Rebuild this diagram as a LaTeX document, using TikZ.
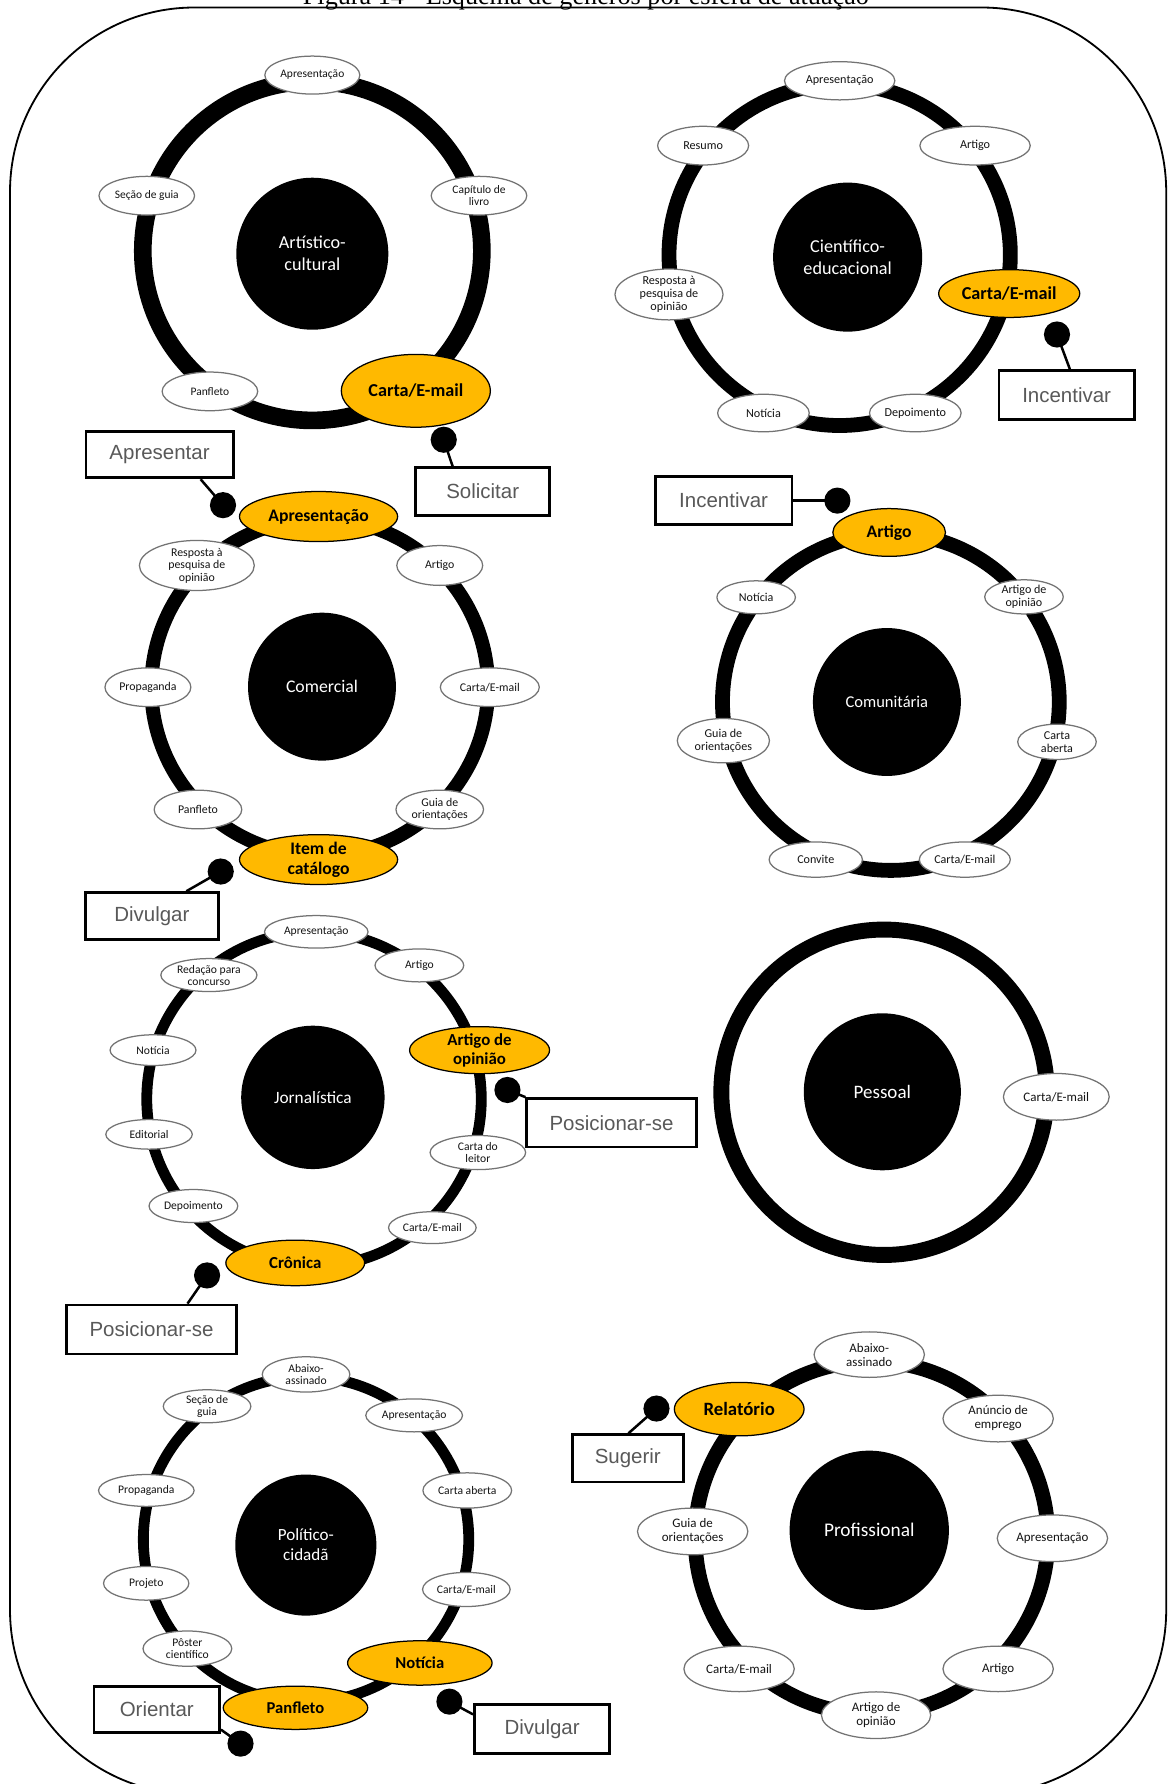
\documentclass[tikz,border=0pt]{standalone}
\usepackage{fontspec}
\setmainfont{Liberation Serif}
\newfontfamily\carl{Carlito}
\newfontfamily\arl{Liberation Sans}
\usetikzlibrary{shapes.geometric,calc}
\definecolor{hlor}{RGB}{255,185,0}
\definecolor{lblgray}{RGB}{89,89,89}
\tikzset{
  sz/.style 2 args={minimum width=#1pt, minimum height=#2pt},
  sm/.style={ellipse, draw=black!55, line width=1.1pt, fill=white, inner sep=0pt, align=center, text=black!92, font=\carl\fontsize{10.4}{11}\selectfont},
  hl/.style={ellipse, draw=black, line width=1.1pt, fill=hlor, inner sep=0pt, align=center, text=black, font=\carl\bfseries\fontsize{15.5}{17.5}\selectfont},
  ctr/.style={circle, fill=black, inner sep=0pt, align=center, text=white, font=\carl\fontsize{15.5}{19}\selectfont},
  ring/.style={draw=black, line width=#1pt},
  lbl/.style={rectangle, draw=black, line width=2.4pt, fill=white, inner sep=0pt, text=lblgray, font=\arl\fontsize{18}{20}\selectfont},
  dotc/.style={circle, fill=black, inner sep=0pt, minimum size=23pt},
  conn/.style={draw=black, line width=2.2pt},
}
\begin{document}
\begin{tikzpicture}[x=1pt,y=-1pt]
\useasboundingbox (0,0) rectangle (1027,1568);
\fill[white] (0,0) rectangle (1027,1568);
\draw[line width=1.6pt, rounded corners=162pt] (8.8,6.6) rectangle (1025,1577);
\node[anchor=base, font=\fontsize{23}{26}\selectfont, inner sep=0pt] (cap) at (515,4) {Figura 14 - Esquema de gêneros por esfera de atuação};

% ---------- D1 Artistico-cultural
\draw[ring=15.5] (274.5,220.5) circle[radius=149pt];
\node[ctr, minimum size=133.6pt, font=\carl\fontsize{16}{19.3}\selectfont] (c1) at (274.5,223) {Artístico-\\cultural};
\begin{scope}[sm/.append style={font=\carl\fontsize{10.1}{10.8}\selectfont}]
\node[sm, sz={83.5}{33.4}] (d1a) at (274.5,66) {Apresentação};
\node[sm, sz={84}{34}] (d1b) at (129,172) {Seção de guia};
\node[sm, sz={84}{34}] (d1c) at (421,172) {Capítulo de\\livro};
\node[sm, sz={84}{34}] (d1d) at (184.5,344) {Panfleto};
\end{scope}
\node[hl, sz={131}{64}, font=\carl\bfseries\fontsize{16}{18}\selectfont] (d1e) at (365.5,343.5) {Carta/E-mail};
\node[lbl, sz={117.5}{42}] (solic) at (424.25,432) {Solicitar};
\node[dotc] (dt1) at (390,386.5) {};
\draw[conn] (dt1.center) -- ($(solic.north west)+(33.5,0)$);

% ---------- D2 Comercial
\draw[ring=12.3] (281,604) circle[radius=148pt];
\node[ctr, minimum size=130pt, font=\carl\fontsize{15.6}{19}\selectfont] (c2) at (283,603.5) {Comercial};
\node[hl, sz={139}{44}] (d2a) at (280,454) {Apresentação};
\node[sm, sz={101}{44}] (d2b) at (173,497) {Resposta à\\pesquisa de\\opinião};
\node[sm, sz={75.5}{35}] (d2c) at (386.5,497) {Artigo};
\node[sm, sz={75.5}{34}] (d2d) at (130,604) {Propaganda};
\node[sm, sz={87}{34}] (d2e) at (430.5,604) {Carta/E-mail};
\node[sm, sz={77}{34}] (d2f) at (174,711.5) {Panfleto};
\node[sm, sz={77}{34}] (d2g) at (386.5,711.5) {Guia de\\orientações};
\node[hl, sz={139}{41}] (d2h) at (280,755.5) {Item de\\catálogo};
\node[lbl, sz={129.5}{41}] (apres) at (140.25,399.5) {Apresentar};
\node[dotc] (dt2) at (196,444) {};
\draw[conn] ($(apres.south west)+(102,0)$) -- (dt2.center);
\node[lbl, sz={117}{41.5}] (div1) at (133.5,805.25) {Divulgar};
\node[dotc] (dt3) at (194,766) {};
\draw[conn] (dt3.center) -- ($(div1.north west)+(90,0)$);

% ---------- D3 Cientifico-educacional
\draw[ring=13] (738,224) circle[radius=150pt];
\node[ctr, minimum size=131pt, font=\carl\fontsize{16}{19.3}\selectfont] (c3) at (745,226) {Científico-\\educacional};
\begin{scope}[sm/.append style={font=\carl\fontsize{10.7}{11.3}\selectfont}]
\node[sm, sz={97}{33.6}] (d3a) at (738,71) {Apresentação};
\node[sm, sz={80}{34}] (d3b) at (618,128) {Resumo};
\node[sm, sz={97}{34}] (d3c) at (857,128) {Artigo};
\node[sm, sz={95}{44.5}] (d3d) at (588,258.8) {Resposta à\\pesquisa de\\opinião};
\node[sm, sz={80.5}{33}] (d3f) at (671,363) {Notícia};
\node[sm, sz={80.5}{33}] (d3g) at (804.5,363) {Depoimento};
\end{scope}
\node[hl, sz={124}{42}, font=\carl\bfseries\fontsize{16}{18}\selectfont] (d3e) at (887,258) {Carta/E-mail};
\node[lbl, sz={119}{43.4}] (inc1) at (937.5,347.3) {Incentivar};
\node[dotc] (dt4) at (929,294) {};
\draw[conn] (dt4.center) -- ($(inc1.north west)+(63.5,0)$);

% ---------- D4 Comunitaria
\draw[ring=13] (783,617) circle[radius=148pt];
\node[ctr, minimum size=130pt, font=\carl\fontsize{14.5}{18}\selectfont] (c4) at (779.5,617) {Comunitária};
\node[hl, sz={99}{42}] (d4a) at (781.5,468) {Artigo};
\begin{scope}[sm/.append style={font=\carl\fontsize{10.6}{11.2}\selectfont}]
\node[sm, sz={69}{29}] (d4b) at (664.6,525) {Notícia};
\node[sm, sz={69}{30}] (d4c) at (900,524.6) {Artigo de\\opinião};
\node[sm, sz={81}{39}] (d4d) at (635.8,651) {Guia de\\orientações};
\node[sm, sz={69}{31}] (d4e) at (929,652) {Carta\\aberta};
\node[sm, sz={82}{31}] (d4f) at (717,755.5) {Convite};
\node[sm, sz={80}{31}] (d4g) at (848,755.5) {Carta/E-mail};
\end{scope}
\node[lbl, sz={120}{42}] (inc2) at (636,440) {Incentivar};
\node[dotc] (dt5) at (736,440) {};
\draw[conn] (inc2.east) -- (dt5.center);

% ---------- D5 Jornalistica
\draw[ring=9.5] (276,966) circle[radius=147pt];
\node[ctr, minimum size=126pt, font=\carl\fontsize{15.2}{19}\selectfont] (c5) at (275,964.5) {Jornalística};
\begin{scope}[sm/.append style={font=\carl\fontsize{10.2}{10.6}\selectfont}]
\node[sm, sz={91}{28.6}] (d5a) at (278,819) {Apresentação};
\node[sm, sz={78}{29}] (d5b) at (368.6,848.5) {Artigo};
\node[sm, sz={84.5}{29}] (d5c) at (183.6,857) {Redação para\\concurso};
\node[sm, sz={75.5}{27}] (d5e) at (134.5,923) {Notícia};
\node[sm, sz={76}{26}] (d5f) at (131,997) {Editorial};
\node[sm, sz={84}{30}] (d5g) at (420,1013) {Carta do\\leitor};
\node[sm, sz={78}{29}] (d5h) at (170,1060) {Depoimento};
\node[sm, sz={77}{28}] (d5i) at (380,1079) {Carta/E-mail};
\end{scope}
\node[hl, sz={123}{40}, font=\carl\bfseries\fontsize{14.8}{16.5}\selectfont] (d5d) at (421.5,923) {Artigo de\\opinião};
\node[hl, sz={122}{40}, font=\carl\bfseries\fontsize{14.8}{16.5}\selectfont] (d5j) at (259.5,1110) {Crônica};
\node[lbl, sz={149}{42.5}] (pos1) at (537.5,986.75) {Posicionar-se};
\node[dotc] (dt6) at (446,958) {};
\draw[conn] (dt6.center) -- (pos1.north west);
\node[lbl, sz={149.5}{43}] (pos2) at (133.25,1168.5) {Posicionar-se};
\node[dotc] (dt7) at (182,1121) {};
\draw[conn] (dt7.center) -- ($(pos2.north west)+(107.5,0)$);

% ---------- D6 Pessoal
\draw[ring=14] (777,960) circle[radius=143pt];
\node[ctr, minimum size=138pt, font=\carl\fontsize{16.7}{19}\selectfont] (c6) at (775.5,959.6) {Pessoal};
\node[sm, sz={93}{41}, font=\carl\fontsize{11.4}{12}\selectfont] (d6a) at (928.4,964) {Carta/E-mail};

% ---------- D7 Politico-cidada
\draw[ring=9.5] (269,1353) circle[radius=143pt];
\node[ctr, minimum size=124pt, font=\carl\fontsize{15}{17.6}\selectfont] (c7) at (268.8,1358) {Político-\\cidadã};
\begin{scope}[sm/.append style={font=\carl\fontsize{10.2}{10.6}\selectfont}]
\node[sm, sz={77}{31}] (d7a) at (269,1208) {Abaixo-\\assinado};
\node[sm, sz={77}{29}] (d7b) at (182,1236) {Seção de\\guia};
\node[sm, sz={85}{29}] (d7c) at (364,1244) {Apresentação};
\node[sm, sz={84}{28}] (d7d) at (128.6,1310) {Propaganda};
\node[sm, sz={78}{31}] (d7e) at (410.7,1310) {Carta aberta};
\node[sm, sz={75}{29.6}] (d7f) at (128.5,1391.6) {Projeto};
\node[sm, sz={77}{30}] (d7g) at (409.9,1397) {Carta/E-mail};
\node[sm, sz={78}{31}] (d7h) at (164.7,1449) {Pôster\\científico};
\end{scope}
\node[hl, sz={127}{39}, font=\carl\bfseries\fontsize{14.6}{16.5}\selectfont] (d7i) at (369,1461.6) {Notícia};
\node[hl, sz={127}{38}, font=\carl\bfseries\fontsize{14.6}{16.5}\selectfont] (d7j) at (259.7,1501) {Panfleto};
\node[lbl, sz={110.4}{41}] (ori) at (137.8,1502.5) {Orientar};
\node[dotc] (dt8) at (211.4,1532.5) {};
\draw[conn] ($(ori.south east)+(0,-4)$) -- (dt8.center);
\node[lbl, sz={119}{43}] (div2) at (476.5,1519.5) {Divulgar};
\node[dotc] (dt9) at (395,1495.6) {};
\draw[conn] (dt9.center) -- ($(div2.north west)+(0,10)$);

% ---------- D8 Profissional
\draw[ring=13] (766,1351.5) circle[radius=155pt];
\node[ctr, minimum size=140pt, font=\carl\fontsize{17}{19}\selectfont] (c8) at (764,1345) {Profissional};
\begin{scope}[sm/.append style={font=\carl\fontsize{11.4}{12.3}\selectfont}]
\node[sm, sz={97}{40}] (d8a) at (764,1190.6) {Abaixo-\\assinado};
\node[sm, sz={97}{41}] (d8c) at (877.3,1246.8) {Anúncio de\\emprego};
\node[sm, sz={97}{41}] (d8d) at (608.8,1346) {Guia de\\orientações};
\node[sm, sz={97}{41}] (d8e) at (925,1352) {Apresentação};
\node[sm, sz={97}{40}] (d8f) at (649.6,1466.8) {Carta/E-mail};
\node[sm, sz={97}{40}] (d8g) at (877.3,1466.8) {Artigo};
\node[sm, sz={96}{41}] (d8h) at (770,1507.5) {Artigo de\\opinião};
\end{scope}
\node[hl, sz={114}{47}, font=\carl\bfseries\fontsize{16.5}{18}\selectfont] (d8b) at (649.7,1238.5) {Relatório};
\node[lbl, sz={97.5}{41.5}] (sug) at (551.75,1281.75) {Sugerir};
\node[dotc] (dt10) at (577,1238) {};
\draw[conn] (dt10.center) -- ($(sug.north west)+(50.5,0)$);
\end{tikzpicture}
\end{document}
